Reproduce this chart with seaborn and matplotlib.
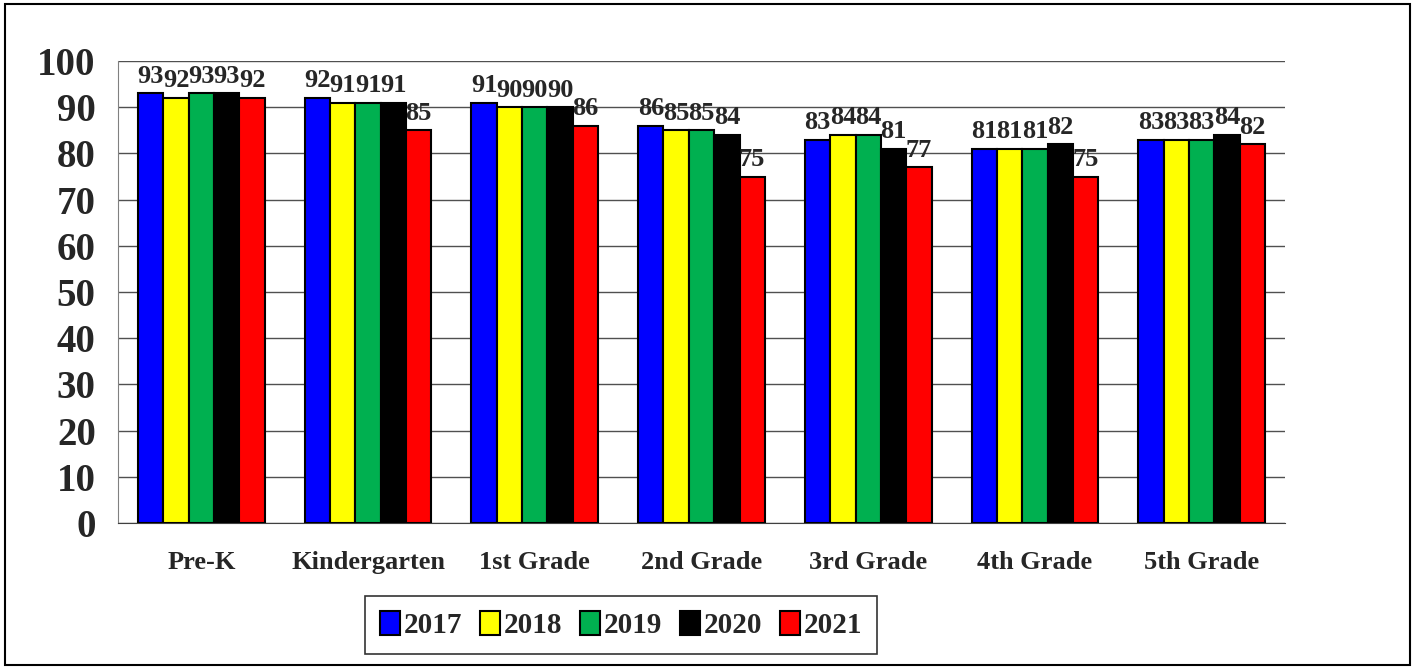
import pandas as pd
import numpy as np
import seaborn as sns
import matplotlib.pyplot as plt
from matplotlib.patches import Rectangle

grades = ['Pre-K', 'Kindergarten', '1st Grade', '2nd Grade', '3rd Grade', '4th Grade', '5th Grade']
years = ['2017', '2018', '2019', '2020', '2021']
v2017 = [93, 92, 91, 86, 83, 81, 83]
v2018 = [92, 91, 90, 85, 84, 81, 83]
v2019 = [93, 91, 90, 85, 84, 81, 83]
v2020 = [93, 91, 90, 84, 81, 82, 84]
v2021 = [92, 85, 86, 75, 77, 75, 82]
colors = ['#0000FF', '#FFFF00', '#00B050', '#000000', '#FF0000']

df = pd.DataFrame({'Grade': grades * 5,
                   'Year': np.repeat(years, len(grades)),
                   'Value': v2017 + v2018 + v2019 + v2020 + v2021})

sns.set_style('white')
plt.rcParams['font.family'] = ['Liberation Serif', 'DejaVu Serif']
plt.rcParams['font.weight'] = 'bold'

fig = plt.figure(figsize=(14.15, 6.69), dpi=100)
ax = fig.add_axes([118/1415, 1 - 523/669, (1285-118)/1415, (523-61)/669])

sns.barplot(data=df, x='Grade', y='Value', hue='Year', palette=colors, saturation=1,
            edgecolor='black', linewidth=1.5, width=0.76, gap=0, ax=ax, zorder=3)

for c in ax.containers:
    ax.bar_label(c, fontsize=19, fontweight='bold', padding=4)

ax.set_ylim(0, 100)
ax.set_xlim(-0.5, 6.5)
ax.set_yticks(range(0, 101, 10))
ax.tick_params(axis='y', labelsize=28, length=10, width=1, color='#808080', pad=6)
ax.yaxis.grid(True, color='#505050', linewidth=1, zorder=0)
ax.set_axisbelow(True)
ax.set_xticks(np.arange(-0.5, 7, 1), minor=True)
ax.tick_params(axis='x', which='major', length=0, labelsize=19, pad=20)
ax.tick_params(axis='x', which='minor', length=10, width=1, color='#505050')
for lbl in ax.get_xticklabels() + ax.get_yticklabels():
    lbl.set_fontweight('bold')
ax.set_xlabel('')
ax.set_ylabel('')
for s in ['top', 'right']:
    ax.spines[s].set_visible(False)
ax.spines['left'].set_color('#808080')
ax.spines['bottom'].set_color('#404040')

handles, labels = ax.get_legend_handles_labels()
ax.legend_.remove()
leg = fig.legend(handles, labels, loc='center', bbox_to_anchor=(621/1415, 1 - 625/669),
                 ncol=5, frameon=True, fancybox=False, edgecolor='black',
                 handlelength=0.7, handleheight=0.9, handletextpad=0.12, columnspacing=0.6,
                 borderpad=0.5, prop={'weight': 'bold', 'size': 21})
leg.get_frame().set_linewidth(1.2)

fig.patches.append(Rectangle((5/1415, 4/669), 1405/1415, 661/669, transform=fig.transFigure,
                             fill=False, edgecolor='black', linewidth=1.5))

fig.savefig('out.png', dpi=100)
